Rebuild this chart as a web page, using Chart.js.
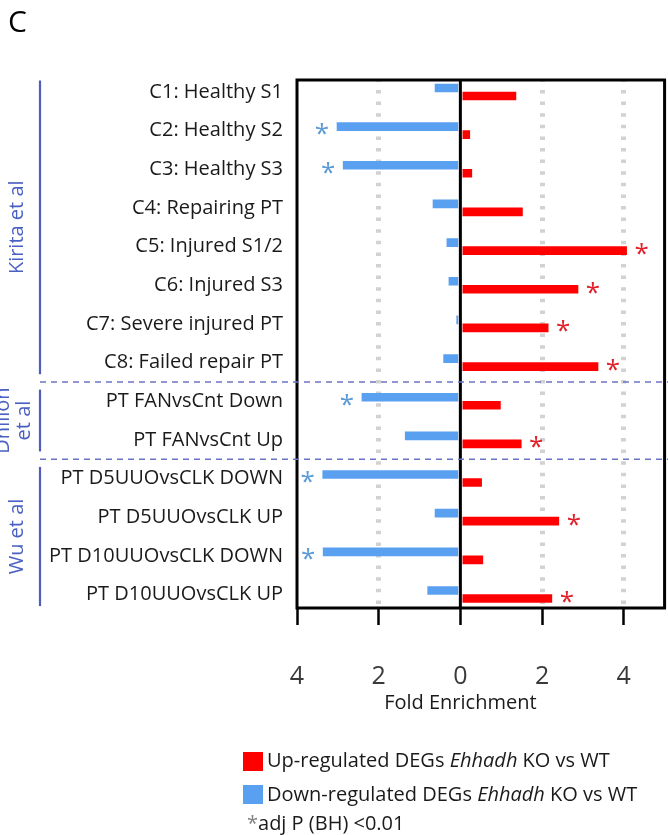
<!DOCTYPE html>
<html>
<head>
<meta charset="utf-8">
<script src="https://cdn.jsdelivr.net/npm/chart.js@4.4.1/dist/chart.umd.min.js"></script>
<style>
  body { margin: 0; background: #fff; font-family: "Open Sans", sans-serif; }
  #wrap { position: relative; width: 668px; height: 835px; overflow: hidden; }
  #chartBox { position: absolute; left: 0; top: 0; width: 668px; height: 835px; }
  .panel { position: absolute; left: 8px; top: 6px; font-size: 30px; line-height: 30px; color: #000; }
  .swatch { position: absolute; left: 243px; width: 20px; height: 19px; }
  .legend-text { position: absolute; left: 267px; font-size: 20px; line-height: 20px; color: #1a1a1a; white-space: nowrap; }
  .note { position: absolute; left: 247px; top: 813px; font-size: 20px; line-height: 20px; color: #1a1a1a; white-space: nowrap; }
  .note span { color: #808080; }
</style>
</head>
<body>
<div id="wrap">
  <div id="chartBox"><canvas id="foldChart"></canvas></div>
  <div class="panel">C</div>
  <div class="swatch" style="top:752px;background:#ff0000"></div>
  <div class="legend-text" style="top:750px">Up-regulated DEGs <i>Ehhadh</i> KO vs WT</div>
  <div class="swatch" style="top:785px;background:#5aa0f0"></div>
  <div class="legend-text" style="top:784px">Down-regulated DEGs <i>Ehhadh</i> KO vs WT</div>
  <div class="note"><span>*</span>adj P (BH) &lt;0.01</div>
</div>
<script>
const categories = [
  "C1: Healthy S1", "C2: Healthy S2", "C3: Healthy S3", "C4: Repairing PT",
  "C5: Injured S1/2", "C6: Injured S3", "C7: Severe injured PT", "C8: Failed repair PT",
  "PT FANvsCnt Down", "PT FANvsCnt Up",
  "PT D5UUOvsCLK DOWN", "PT D5UUOvsCLK UP", "PT D10UUOvsCLK DOWN", "PT D10UUOvsCLK UP"
];
// down-regulated enrichment is plotted to the left (negative)
const downFold = [-0.62, -3.02, -2.87, -0.67, -0.33, -0.28, -0.09, -0.41, -2.41, -1.35, -3.37, -0.62, -3.36, -0.80];
const upFold = [1.36, 0.23, 0.28, 1.52, 4.07, 2.88, 2.15, 3.37, 0.98, 1.49, 0.52, 2.41, 0.55, 2.24];
const downSig = [false, true, true, false, false, false, false, false, true, false, true, false, true, false];
const upSig = [false, false, false, false, true, true, true, true, false, true, false, true, false, true];
const xTicks = [-4, -2, 0, 2, 4];
const dottedAt = [-2, 2, 4];
const groupNames = [["Kirita et al"], ["Dhillon", "et al"], ["Wu et al"]];
const groupFirst = [0, 8, 10];
const groupLast = [7, 9, 13];

const upColor = "#ff0000";
const downColor = "#5aa0f0";
const groupColor = "#4f5eb8";
const font = "Open Sans";

const framePlugin = {
  id: "frame",
  afterDatasetsDraw(chart) {
    const { ctx, chartArea: a } = chart;
    const x0 = chart.scales.x.getPixelForValue(0);
    ctx.save();
    ctx.strokeStyle = "#000";
    ctx.lineWidth = 3;
    ctx.strokeRect(a.left, a.top, a.right - a.left, a.bottom - a.top);
    ctx.beginPath();
    ctx.moveTo(x0, a.top);
    ctx.lineTo(x0, a.bottom);
    ctx.stroke();
    ctx.restore();
  }
};

const starPlugin = {
  id: "stars",
  afterDatasetsDraw(chart) {
    const ctx = chart.ctx;
    ctx.save();
    ctx.font = `26px "${font}"`;
    ctx.textAlign = "center";
    ctx.textBaseline = "alphabetic";
    const sets = [
      { index: 0, sig: downSig, color: "#5b9bd5", dx: -15, dy: 1.5 },
      { index: 1, sig: upSig, color: "#e2202a", dx: 15, dy: -2.5 }
    ];
    sets.forEach((s) => {
      ctx.fillStyle = s.color;
      chart.getDatasetMeta(s.index).data.forEach((bar, i) => {
        if (s.sig[i]) ctx.fillText("*", bar.x + s.dx, bar.y + s.dy + 14);
      });
    });
    ctx.restore();
  }
};

const groupPlugin = {
  id: "groups",
  afterDraw(chart) {
    const { ctx, chartArea: a } = chart;
    const y = chart.scales.y;
    const x0 = chart.scales.x.getPixelForValue(0);
    ctx.save();

    // dashed separators between studies
    ctx.strokeStyle = "#6b74c4";
    ctx.lineWidth = 1.5;
    ctx.setLineDash([6, 5]);
    for (let g = 0; g < groupLast.length - 1; g++) {
      const py = y.getPixelForValue(groupLast[g] + 0.5);
      ctx.beginPath();
      ctx.moveTo(40, py);
      ctx.lineTo(chart.width, py);
      ctx.stroke();
    }
    ctx.setLineDash([]);

    // brackets and rotated study names
    ctx.strokeStyle = groupColor;
    ctx.lineWidth = 2.2;
    ctx.fillStyle = "#4a60c2";
    ctx.font = `20px "${font}"`;
    ctx.textAlign = "center";
    ctx.textBaseline = "middle";
    groupNames.forEach((lines, g) => {
      ctx.beginPath();
      ctx.moveTo(40, y.getPixelForValue(groupFirst[g] - 0.3));
      ctx.lineTo(40, y.getPixelForValue(groupLast[g] + 0.3));
      ctx.stroke();
      const cy = y.getPixelForValue((groupFirst[g] + groupLast[g]) / 2);
      lines.forEach((txt, j) => {
        const cx = lines.length > 1 ? 24 - (lines.length - 1 - j) * 21 : 17;
        ctx.save();
        ctx.translate(cx, cy);
        ctx.rotate(-Math.PI / 2);
        ctx.fillText(txt, 0, 0);
        ctx.restore();
      });
    });

    // axis title centred on zero
    ctx.fillStyle = "#1a1a1a";
    ctx.fillText("Fold Enrichment", x0, a.bottom + 95);
    ctx.restore();
  }
};

const ctx = document.getElementById("foldChart").getContext("2d");

new Chart(ctx, {
  type: "bar",
  data: {
    datasets: [
      {
        label: "Down-regulated DEGs Ehhadh KO vs WT",
        data: categories.map((c, i) => ({ y: i, x: downFold[i] })),
        backgroundColor: downColor,
        barThickness: 8
      },
      {
        label: "Up-regulated DEGs Ehhadh KO vs WT",
        data: categories.map((c, i) => ({ y: i, x: upFold[i] })),
        backgroundColor: upColor,
        barThickness: 8
      }
    ]
  },
  options: {
    indexAxis: "y",
    responsive: true,
    maintainAspectRatio: false,
    animation: false,
    layout: {
      padding: { top: 80, right: 1, bottom: 0, left: 0 }
    },
    plugins: {
      legend: { display: false },
      tooltip: { enabled: false }
    },
    scales: {
      x: {
        type: "linear",
        min: -4,
        max: 5,
        afterBuildTicks: (axis) => {
          axis.ticks = xTicks.map((v) => ({ value: v }));
        },
        afterFit: (axis) => {
          axis.height = 227;
        },
        grid: {
          lineWidth: 5,
          color: (c) => (c.tick && dottedAt.includes(c.tick.value) ? "#d2d2d2" : "rgba(0,0,0,0)"),
          drawTicks: true,
          tickLength: 17,
          tickWidth: 2.5,
          tickColor: "#000",
          tickBorderDash: []
        },
        border: {
          display: false,
          dash: [3.5, 8.1],
          dashOffset: 1.6
        },
        ticks: {
          padding: 37,
          color: "#3a3a3a",
          font: { family: font, size: 25 },
          callback: (v) => Math.abs(v)
        }
      },
      y: {
        type: "linear",
        reverse: true,
        offset: false,
        min: -0.31,
        max: 13.35,
        afterBuildTicks: (axis) => {
          axis.ticks = categories.map((c, i) => ({ value: i }));
        },
        afterFit: (axis) => {
          axis.width = 297;
        },
        grid: { display: false, drawTicks: false, offset: false },
        border: { display: false },
        ticks: {
          autoSkip: false,
          padding: 14,
          color: "#1a1a1a",
          font: { family: font, size: 20 },
          callback: (v) => categories[v]
        }
      }
    }
  },
  plugins: [framePlugin, starPlugin, groupPlugin]
});
</script>
</body>
</html>
